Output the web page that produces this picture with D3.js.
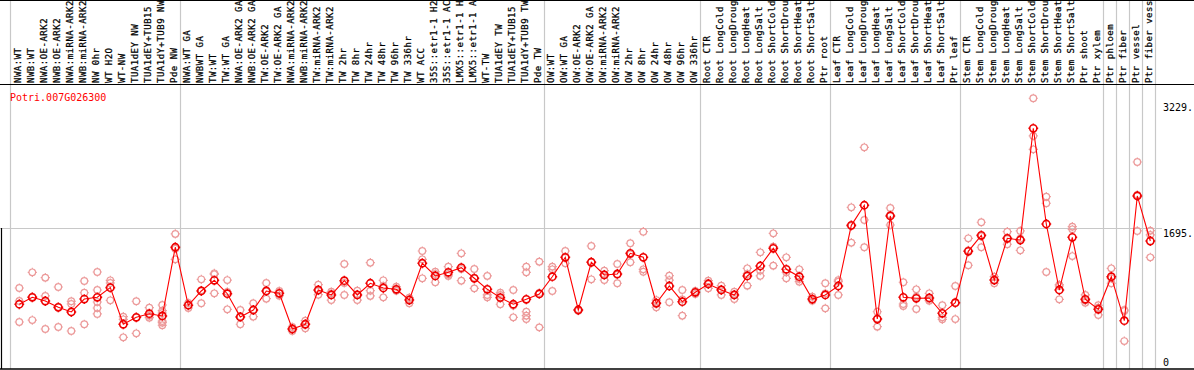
<!DOCTYPE html>
<html><head><meta charset="utf-8">
<script src="https://cdn.jsdelivr.net/npm/d3@7"></script>
<style>html,body{margin:0;padding:0;background:#fff;}svg{display:block;}</style>
</head><body>
<script>
const geneId = "Potri.007G026300";
const samples = [
"NWA:WT","NWB:WT","NWA:OE-ARK2","NWB:OE-ARK2","NWA:miRNA-ARK2","NWB:miRNA-ARK2","NW 0hr","WT H2O","WT-NW","TUA1dEY NW","TUA1dEY+TUB15","TUA1dY+TUB9 NW","Pde NW",
"NWA:WT GA","NWBWT GA","TW:WT","TW:WT GA","NWA:OE-ARK2 GA","NWB:OE-ARK2 GA","TW:OE-ARK2","TW:OE-ARK2 GA","NWA:miRNA-ARK2","NWB:miRNA-ARK2","TW:miRNA-ARK2","TW:miRNA-ARK2","TW 2hr","TW 8hr","TW 24hr","TW 48hr","TW 96hr","TW 336hr","WT ACC","35S::etr1-1 H2","35S::etr1-1 AC","LMX5::etr1-1 H","LMX5::etr1-1 A","WT-TW","TUA1dEY TW","TUA1dEY+TUB15","TUA1dY+TUB9 TW","Pde TW",
"OW:WT","OW:WT GA","OW:OE-ARK2","OW:OE-ARK2 GA","OW:miRNA-ARK2","OW:miRNA-ARK2","OW 2hr","OW 8hr","OW 24hr","OW 48hr","OW 96hr","OW 336hr",
"Root CTR","Root LongCold","Root LongDroug","Root LongHeat","Root LongSalt","Root ShortCold","Root ShortDrou","Root ShortHeat","Root ShortSalt","Ptr root",
"Leaf CTR","Leaf LongCold","Leaf LongDroug","Leaf LongHeat","Leaf LongSalt","Leaf ShortCold","Leaf ShortDrou","Leaf ShortHeat","Leaf ShortSalt","Ptr leaf",
"Stem CTR","Stem LongCold","Stem LongDroug","Stem LongHeat","Stem LongSalt","Stem ShortCold","Stem ShortDrou","Stem ShortHeat","Stem ShortSalt","Ptr shoot","Ptr xylem",
"Ptr phloem","Ptr fiber","Ptr vessel","Ptr fiber vess"];

// index of last sample in each separated group
const groupEnds = [12, 40, 52, 62, 72, 83, 84, 85, 86, 87];

const means = [780,864,819,743,687,843,864,980,539,623,666,639,1467,
768,940,1069,907,627,711,940,912,482,539,952,892,1064,892,1033,976,960,831,1274,1121,1165,1221,1093,960,860,780,840,904,
1112,1346,711,1286,1133,1145,1394,1346,792,1000,811,924,
1024,952,892,1121,1241,1454,1201,1112,843,892,
1000,1731,1973,602,1844,864,852,856,671,799,
1418,1611,1072,1575,1554,2900,1747,952,1587,840,719,
1112,582,2085,1542];

const replicates = [
[976,819,566],[1165,868,590],[1100,880,482],[988,747,506],[816,783,458],[1060,919,539],[1169,952,807,735,663],[1069,1036,828],[630,599,382],[816,621,430],[739,642,618],[771,703,675,578,558,527],[1627,1450,1322],
[795,771,735],[1081,947,792],[1153,1141,912],[1072,930,719],[711,630,539],[792,711,630],[1036,936,847],[940,912,883],[506,482,458],[582,542,490],[1016,944,895],[931,912,831],[1265,1036,892],[944,900,831],[1281,944,880],[1069,1000,864],[992,960,944],[859,843,792],[1422,1322,1093],[1172,1145,1045],[1233,1141,1121],[1394,1205,1064],[1205,1100,972],[1121,892,864],[919,892,780],[952,764,623],[1233,1165,690,642,602],[1293,916,502],
[1233,1201,940],[1422,1341,1274],[719,711,703],[1482,1293,1081],[1185,1141,1072],[1265,1136,1033],[1515,1382,1286],[1654,1201,1172],[831,799,743],[1124,1072,804],[952,840,642],[940,928,904],
[1064,1036,972],[1004,960,892],[931,900,843],[1213,1145,1004],[1406,1185,1121],[1635,1474,1245],[1346,1165,1093],[1201,1084,1052],[871,835,823],[1033,912,731],
[1072,1052,892],[1948,1723,1522],[2671,1795,1467],[690,606,510],[1940,1856,1735],[1045,783,759],[960,871,723],[912,831,823],[768,623,599],[1000,795,602],
[1575,1430,1250],[1768,1599,1467],[1112,1072,1033],[1654,1567,1503],[1663,1570,1430],[3262,2808,2647],[2076,1997,1169],[1016,1000,840],[1715,1683,1361],[892,828,799],[768,739,651],
[1213,1093,1033],[711,699,337],[2494,2097,1663],[1667,1615,1346]];

const axisTicks = [3229, 1695, 0];
const gridValues = [1695];

const W = 1194, H = 370;
const svg = d3.select("body").append("svg").attr("width", W).attr("height", H)
  .style("font-family", "'DejaVu Sans Mono', monospace");
svg.append("rect").attr("width", W).attr("height", H).attr("fill", "#fff");

const x = d3.scaleBand().domain(d3.range(samples.length)).range([12.8, 12.8 + 13 * samples.length]).padding(0);
const cx = i => x(i) + x.bandwidth() / 2;
const y = d3.scaleLinear().domain([0, 3229]).range([369, 101]);

// gridline
svg.selectAll("line.grid").data(gridValues).join("line")
  .attr("x1", 0).attr("x2", 1162).attr("y1", d => Math.round(y(d)) + 0.5).attr("y2", d => Math.round(y(d)) + 0.5)
  .attr("stroke", "#c8c8c8").attr("stroke-width", 1);

// vertical separators
const seps = [cx(0) - 9].concat(groupEnds.map(i => cx(i) + 5));
svg.selectAll("line.sep").data(seps).join("line")
  .attr("x1", d => Math.round(d) + 0.5).attr("x2", d => Math.round(d) + 0.5)
  .attr("y1", 0).attr("y2", 369).attr("stroke", "#c8c8c8").attr("stroke-width", 1.2);

// frame lines
svg.append("line").attr("x1", 0).attr("x2", W).attr("y1", 0.5).attr("y2", 0.5).attr("stroke", "#000");
svg.append("line").attr("x1", 0).attr("x2", W).attr("y1", 84.5).attr("y2", 84.5).attr("stroke", "#000").attr("stroke-width", 1.2);
svg.append("line").attr("x1", 0).attr("x2", W).attr("y1", 369).attr("y2", 369).attr("stroke", "#000").attr("stroke-width", 1.5);
svg.append("line").attr("x1", 1.5).attr("x2", 1.5).attr("y1", 228).attr("y2", 369).attr("stroke", "#000").attr("stroke-width", 1.2);

// header labels
svg.selectAll("text.lab").data(samples).join("text")
  .attr("transform", (d, i) => `translate(${cx(i) + 1.6},83) rotate(-90)`)
  .attr("font-size", 9).attr("letter-spacing", 0.5).attr("fill", "#000")
  .attr("stroke", "#000").attr("stroke-width", 0.25)
  .text(d => d);

// title
svg.append("text").attr("x", 10).attr("y", 100.6).attr("fill", "#ff0000").attr("font-size", 10).text(geneId);

// right axis labels
svg.selectAll("text.tick").data(axisTicks).join("text")
  .attr("x", 1163).attr("font-size", 10).attr("fill", "#000")
  .attr("y", d => d === 0 ? 366 : y(d) + (d === 3229 ? 9.5 : 8.2))
  .text(d => d === 0 ? "0" : d + ".");

// marker path: circle with small ticks
function marker(r) {
  const t = 1.3;
  return `M${r},0A${r},${r} 0 1,1 ${-r},0A${r},${r} 0 1,1 ${r},0Z` +
    `M0,${-r - t}V${-r}M0,${r}V${r + t}M${-r - t},0H${-r}M${r},0H${r + t}`;
}

// replicates
const repPts = [];
replicates.forEach((arr, i) => arr.forEach(v => repPts.push({i, v})));
svg.selectAll("path.rep").data(repPts).join("path")
  .attr("transform", d => `translate(${cx(d.i)},${y(d.v)})`)
  .attr("d", marker(3.3)).attr("fill", "none").attr("stroke", "#ec9a9a").attr("stroke-width", 1.2);

// mean line
svg.append("path").datum(means)
  .attr("d", d3.line().x((d, i) => cx(i)).y(d => y(d)))
  .attr("fill", "none").attr("stroke", "#ff0000").attr("stroke-width", 1.1);

svg.selectAll("path.mean").data(means).join("path")
  .attr("transform", (d, i) => `translate(${cx(i)},${y(d)})`)
  .attr("d", marker(3.6)).attr("fill", "none").attr("stroke", "#ee0000").attr("stroke-width", 1.6);
</script>
</body></html>
